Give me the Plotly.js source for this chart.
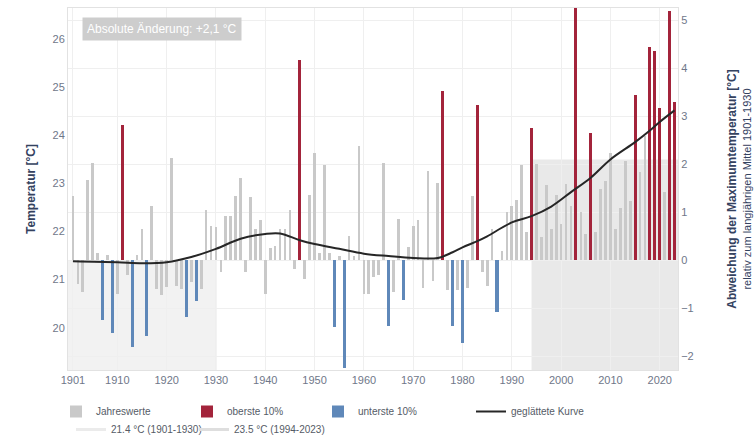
<!DOCTYPE html>
<html>
<head>
<meta charset="utf-8">
<script src="https://cdn.plot.ly/plotly-3.0.1.min.js"></script>
<style>html,body{margin:0;padding:0;background:#fff}#chart{width:754px;height:436px}</style>
</head>
<body>
<div id="chart"></div>
<script>
// ---- data ----
const years = [];
for (let y = 1901; y <= 2023; y++) years.push(y);

// anomaly of the maximum temperature [°C] relative to 1901-1930
const anomalies = [
  1.33, -0.50, -0.66, 1.67, 2.02, 0.15, -1.23, 0.12, -1.50, -0.70,   // 1901-1910
  2.82, -0.30, -1.81, 0.12, 0.66, -1.58, 1.14, -0.60, -0.72, -0.55,  // 1911-1920
  2.12, -0.53, -0.60, -1.17, -0.45, -0.85, -0.60, 1.05, 0.72, 0.70,  // 1921-1930
  -0.25, 0.93, 0.93, 1.33, 1.71, -0.25, 1.31, 0.66, 0.83, -0.70,     // 1931-1940
  0.25, 0.30, 0.66, 0.66, 1.04, -0.18, 4.16, -0.38, 1.35, 2.23,      // 1941-1950
  0.15, 1.98, 0.15, -1.39, 0.10, -2.24, 0.51, 0.10, 2.37, -0.70,     // 1951-1960
  -0.70, -0.35, -0.30, 2.02, -1.37, -0.65, 0.87, -0.82, 0.28, 0.72,  // 1961-1970
  0.83, -0.57, 1.86, -0.42, 1.60, 3.52, -0.62, -1.37, -0.62, -1.71,  // 1971-1980
  -0.58, 1.33, 3.24, -0.25, -0.53, 0.66, -1.08, 0.20, 1.00, 1.14,   // 1981-1990
  1.25, 1.98, 0.59, 2.76, 2.00, 0.48, 1.56, 0.66, 1.35, 0.76,        // 1991-2000
  1.58, 1.14, 5.30, 1.00, 0.55, 2.64, 0.59, 1.49, 1.66, 2.23,        // 2001-2010
  0.66, 1.09, 2.07, 1.24, 3.44, 1.84, 2.58, 4.44, 4.36, 3.17,        // 2011-2020
  1.42, 5.18, 3.30                                                   // 2021-2023
];

const topYears = [1911, 1947, 1976, 1983, 1994, 2003, 2006, 2015, 2018, 2019, 2020, 2022, 2023];
const bottomYears = [1907, 1909, 1913, 1916, 1924, 1926, 1954, 1956, 1965, 1968, 1978, 1980, 1987];

// smoothed curve (anomaly) read at selected years
const curveYears = [1901, 1910, 1915, 1920, 1925, 1930, 1935, 1940, 1943, 1947, 1950, 1955, 1960, 1965, 1970, 1975, 1978, 1980, 1983, 1985, 1990, 1994, 1998, 2002, 2006, 2010, 2015, 2018, 2020, 2023];
const curveValues = [-0.02, -0.04, -0.06, -0.04, 0.07, 0.24, 0.45, 0.55, 0.56, 0.42, 0.34, 0.24, 0.14, 0.09, 0.05, 0.05, 0.17, 0.27, 0.40, 0.50, 0.79, 0.92, 1.12, 1.42, 1.72, 2.10, 2.46, 2.70, 2.88, 3.12];

const refMean = 21.4;           // 1901-1930 mean [°C]
const periods = [[1901, 1930], [1994, 2023]];
const periodMeans = [21.4, 23.5];
const periodLabels = ['21.4 °C (1901-1930)', '23.5 °C (1994-2023)'];

const xTickVals = [1901, 1910, 1920, 1930, 1940, 1950, 1960, 1970, 1980, 1990, 2000, 2010, 2020];
const leftTicks = [20, 21, 22, 23, 24, 25, 26];
const rightTicks = [-2, -1, 0, 1, 2, 3, 4, 5];

// ---- build ----
const greyX = [], greyY = [], redX = [], redY = [], blueX = [], blueY = [];
years.forEach((yr, i) => {
  const v = anomalies[i];
  if (topYears.includes(yr)) { redX.push(yr); redY.push(v); }
  else if (bottomYears.includes(yr)) { blueX.push(yr); blueY.push(v); }
  else { greyX.push(yr); greyY.push(v); }
});

const y2Range = [-2.28, 5.25];
const yRange = [y2Range[0] + refMean, y2Range[1] + refMean];
const fontFam = 'Liberation Sans, Arial, sans-serif';
const tickCol = '#6f7789';
const titleCol = '#34425f';
const legFont = {size: 10, color: '#555b66'};

const traces = [
  {type: 'bar', name: 'Jahreswerte', x: greyX, y: greyY, yaxis: 'y2', width: 0.55,
   marker: {color: '#c9c9c9'}, legend: 'legend'},
  {type: 'bar', name: 'oberste 10%', x: redX, y: redY, yaxis: 'y2', width: 0.62,
   marker: {color: '#a3243b'}, legend: 'legend'},
  {type: 'bar', name: 'unterste 10%', x: blueX, y: blueY, yaxis: 'y2', width: 0.62,
   marker: {color: '#5f88b9'}, legend: 'legend'},
  {type: 'scatter', mode: 'lines', name: 'geglättete Kurve', x: curveYears, y: curveValues, yaxis: 'y2',
   line: {color: '#262626', width: 2, shape: 'spline', smoothing: 1.0}, legend: 'legend3'},
  {type: 'scatter', mode: 'lines', name: periodLabels[0], x: [null], y: [null], yaxis: 'y2',
   line: {color: '#ebebeb', width: 3}, legend: 'legend2'},
  {type: 'scatter', mode: 'lines', name: periodLabels[1], x: [null], y: [null], yaxis: 'y2',
   line: {color: '#dedede', width: 3}, legend: 'legend4'}
];

const shapes = [
  {type: 'rect', layer: 'below', xref: 'x', yref: 'y', x0: 1900, x1: periods[0][1] + 0.2,
   y0: yRange[0], y1: periodMeans[0], fillcolor: '#f2f2f2', line: {width: 0}},
  {type: 'rect', layer: 'below', xref: 'x', yref: 'y', x0: periods[1][0], x1: 2023.7,
   y0: yRange[0], y1: periodMeans[1], fillcolor: '#e9e9e9', line: {width: 0}}
];

function leg(xpx, ypx, extra) {
  return Object.assign({orientation: 'h', xref: 'container', yref: 'container',
    x: xpx / 754, y: ypx / 436, xanchor: 'left', yanchor: 'top',
    font: legFont, bgcolor: 'rgba(0,0,0,0)'}, extra || {});
}

const layout = {
  width: 754, height: 436,
  margin: {l: 68, r: 76, t: 8, b: 66},
  paper_bgcolor: '#ffffff', plot_bgcolor: '#ffffff',
  font: {family: fontFam, size: 11, color: tickCol},
  barmode: 'overlay',
  bargap: 0,
  xaxis: {range: [1900, 2023.7], tickvals: xTickVals, ticktext: xTickVals.map(String),
    showgrid: true, gridcolor: '#efefef', zeroline: false, showline: true, linecolor: '#e2e2e2',
    mirror: true, ticks: '', tickfont: {size: 11, color: tickCol}},
  yaxis: {range: yRange, tickvals: leftTicks, showgrid: false, zeroline: false,
    showline: true, linecolor: '#e2e2e2', ticks: '', tickfont: {size: 11, color: tickCol},
    title: {text: '<b>Temperatur [°C]</b>', font: {size: 12, color: titleCol}, standoff: 14}},
  yaxis2: {range: y2Range, overlaying: 'y', side: 'right', tickvals: rightTicks,
    showgrid: true, gridcolor: '#efefef', zeroline: false, showline: true, linecolor: '#e2e2e2',
    ticks: '', tickfont: {size: 11, color: tickCol}, automargin: false,
    title: {text: '<b>Abweichung der Maximumtemperatur [°C]</b><br><span style="font-size:11px;font-weight:normal">relativ zum langjährigen Mittel 1901-1930</span>',
      font: {size: 12, color: titleCol}, standoff: 34}},
  shapes: shapes,
  annotations: [{
    xref: 'paper', yref: 'paper', x: 0.023, y: 0.975, xanchor: 'left', yanchor: 'top',
    text: 'Absolute Änderung: +2,1 °C', showarrow: false,
    bgcolor: '#cdcdcd', borderpad: 4, font: {size: 12, color: '#ffffff', family: fontFam}
  }],
  showlegend: true,
  legend: leg(56, 39, {entrywidth: 86, entrywidthmode: 'pixels', traceorder: 'normal'}),
  legend3: leg(471, 39),
  legend2: leg(71, 21),
  legend4: leg(194, 21)
};

Plotly.newPlot('chart', traces, layout, {displayModeBar: false, staticPlot: true});
</script>
</body>
</html>
